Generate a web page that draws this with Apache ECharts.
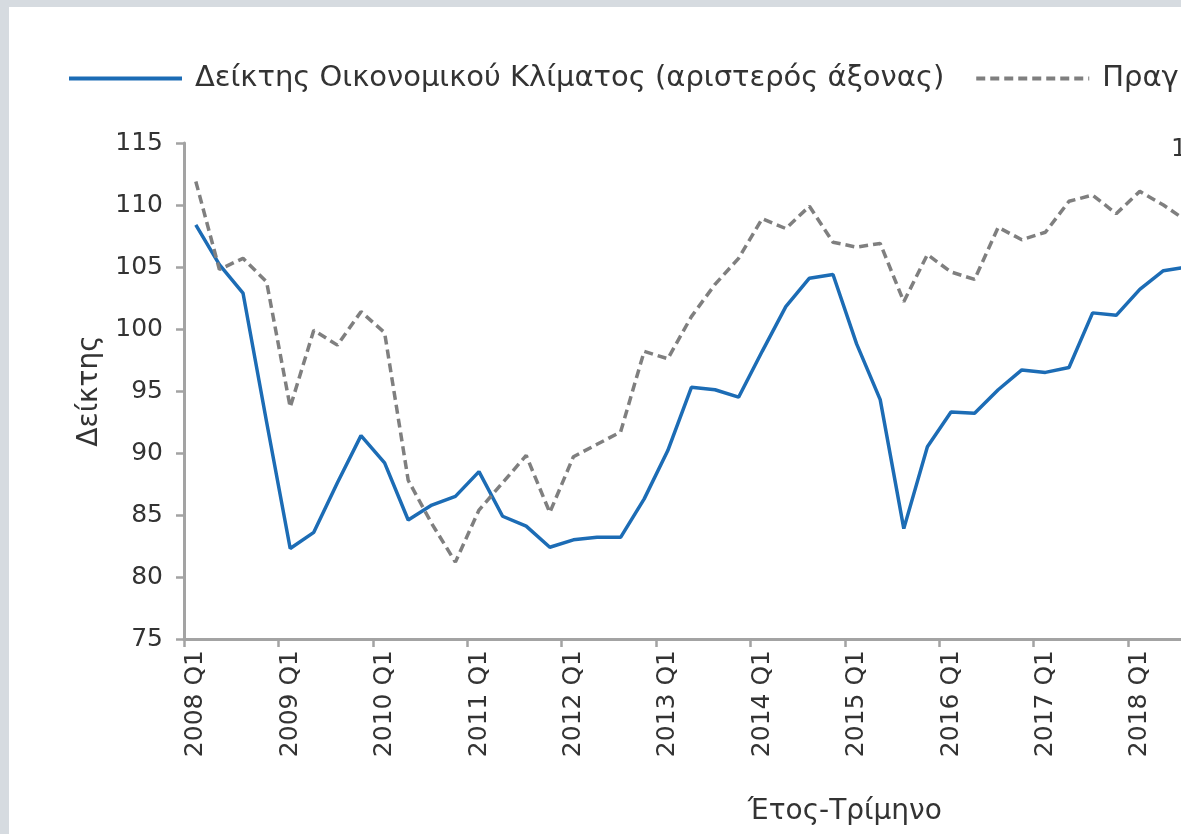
<!DOCTYPE html>
<html>
<head>
<meta charset="utf-8">
<script src="https://cdn.jsdelivr.net/npm/echarts@6/dist/echarts.min.js"></script>
<style>
  html, body { margin:0; padding:0; width:1181px; height:834px; overflow:hidden; background:#d6dbe0; }
  #panel { position:absolute; left:9px; top:7px; width:1300px; height:900px; background:#ffffff; }
  #chart { position:absolute; left:0; top:0; width:1700px; height:834px; }
</style>
</head>
<body>
<div id="panel"></div>
<div id="chart"></div>
<script>
// Categories: quarters 2008 Q1 .. 2021 Q4 (the reference is cropped on the right)
const years = [];
for (let y = 2008; y <= 2021; y++) years.push(y);
const quarters = ['Q1','Q2','Q3','Q4'];
const categories = [];
years.forEach(y => quarters.forEach(q => categories.push(y + ' ' + q)));

// Δείκτης Οικονομικού Κλίματος (left axis) — visible part 2008 Q1 .. 2018 Q3
const climateIndex = [
  108.4, 105.2, 102.9, 92.5,
  82.3, 83.6, 87.6, 91.4,
  89.2, 84.6, 85.8, 86.5,
  88.5, 84.9, 84.1, 82.4,
  83.0, 83.2, 83.2, 86.3,
  90.2, 95.3, 95.1, 94.5,
  98.2, 101.8, 104.1, 104.4,
  98.8, 94.3, 83.9, 90.5,
  93.3, 93.2, 95.1, 96.7,
  96.5, 96.9, 101.3, 101.1,
  103.2, 104.7, 105.0
];

// Second (dashed) series, right axis — values read against the left-axis grid
const secondIndex = [
  111.9, 104.8, 105.7, 103.8,
  93.7, 99.9, 98.7, 101.4,
  99.7, 87.8, 84.3, 81.2,
  85.4, 87.6, 89.8, 85.2,
  89.7, 90.7, 91.7, 98.2,
  97.6, 101.0, 103.6, 105.7,
  108.9, 108.1, 109.9, 107.0,
  106.6, 106.9, 102.2, 106.0,
  104.6, 104.0, 108.2, 107.2,
  107.8, 110.3, 110.8, 109.3,
  111.1, 110.0, 108.7
];

const yTicks = { min: 75, max: 115, interval: 5 };

const seriesNames = [
  'Δείκτης Οικονομικού Κλίματος (αριστερός άξονας)',
  'Πραγματικό ΑΕΠ (δεξιός άξονας)'
];

const FONT = '"DejaVu Sans", sans-serif';
const FS = 25;
const FS_NAME = 28;
const FS_LEG = 29;
const TXT = '#333333';
const AX = '#a3a3a3';

const chart = echarts.init(document.getElementById('chart'), null, { renderer: 'canvas' });
chart.setOption({
  animation: false,
  backgroundColor: 'transparent',
  textStyle: { fontFamily: FONT, color: TXT },
  legend: {
    left: 67, top: 64, padding: 0,
    itemWidth: 113, itemHeight: 14, itemGap: 30,
    itemStyle: { opacity: 0 },
    lineStyle: { width: 4 },
    textStyle: { fontFamily: FONT, fontSize: FS_LEG, color: TXT, padding: [0,0,0,8] },
    data: seriesNames
  },
  grid: { left: 184, top: 143, width: 56 * 23.6, bottom: 195, containLabel: false },
  xAxis: {
    type: 'category',
    data: categories,
    boundaryGap: true,
    name: 'Έτος-Τρίμηνο',
    nameLocation: 'middle',
    nameGap: 159,
    nameTextStyle: { fontFamily: FONT, fontSize: FS_NAME, color: TXT },
    axisLine: { lineStyle: { color: AX, width: 3 } },
    axisTick: { show: true, interval: 3, length: 8, lineStyle: { color: AX, width: 2.5 } },
    axisLabel: { interval: 3, rotate: 90, margin: 11, fontFamily: FONT, fontSize: FS, color: TXT },
    splitLine: { show: false }
  },
  yAxis: [
    {
      type: 'value',
      min: yTicks.min, max: yTicks.max, interval: yTicks.interval,
      name: 'Δείκτης',
      nameLocation: 'middle',
      nameRotate: 90,
      nameGap: 80,
      nameTextStyle: { fontFamily: FONT, fontSize: FS_NAME, color: TXT },
      axisLine: { show: true, lineStyle: { color: AX, width: 3 } },
      axisTick: { show: true, length: 8, lineStyle: { color: AX, width: 2.5 } },
      axisLabel: { margin: 21, fontFamily: FONT, fontSize: FS, color: TXT },
      splitLine: { show: false }
    },
    {
      type: 'value',
      min: yTicks.min, max: yTicks.max, interval: yTicks.interval,
      position: 'right',
      axisLine: { show: false },
      axisTick: { show: false },
      axisLabel: { show: false },
      splitLine: { show: false }
    }
  ],
  graphic: [
    { type: 'text', left: 1171, top: 137, style: { text: '1', font: FS + 'px "DejaVu Sans", sans-serif', fill: TXT } }
  ],
  series: [
    {
      name: seriesNames[0],
      type: 'line',
      data: climateIndex,
      yAxisIndex: 0,
      symbol: 'none',
      lineStyle: { color: '#1c6cb5', width: 3.5 },
      itemStyle: { color: '#1c6cb5' }
    },
    {
      name: seriesNames[1],
      type: 'line',
      data: secondIndex,
      yAxisIndex: 1,
      symbol: 'none',
      lineStyle: { color: '#7f7f7f', width: 3.5, type: [9, 5] },
      itemStyle: { color: '#7f7f7f' }
    }
  ]
});
</script>
</body>
</html>
